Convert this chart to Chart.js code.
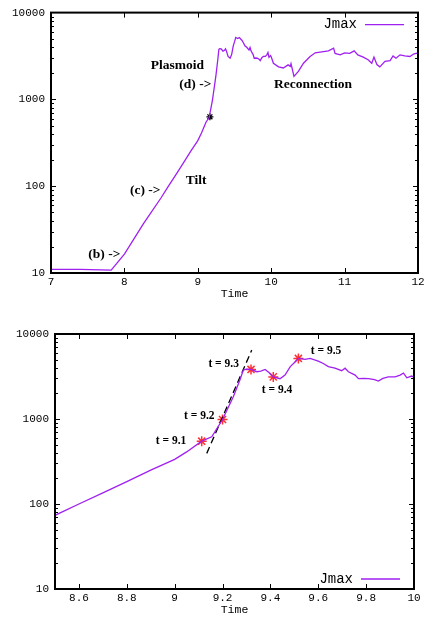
<!DOCTYPE html>
<html>
<head>
<meta charset="utf-8">
<script src="https://cdn.jsdelivr.net/npm/chart.js@4.4.1/dist/chart.umd.min.js"></script>
<style>
    body { margin: 0; background: #fff; }
    .box { position: absolute; left: 0; width: 427px; }
</style>
</head>
<body>
<div class="box" style="top:0;height:305px"><canvas id="chartTop"></canvas></div>
<div class="box" style="top:305px;height:313px"><canvas id="chartBottom"></canvas></div>
<script>
// Jmax against time
const timeValues = [
    7.0, 7.4, 7.82, 8.0, 8.26, 8.5, 8.6, 8.7, 8.8, 8.9, 9.0, 9.05, 9.113, 9.155,
    9.2, 9.245, 9.273, 9.287, 9.3, 9.319, 9.343, 9.36, 9.378, 9.395, 9.412, 9.44,
    9.461, 9.483, 9.503, 9.517, 9.545, 9.566, 9.6, 9.621, 9.642, 9.67, 9.698, 9.712,
    9.726, 9.754, 9.768, 9.79, 9.81, 9.835, 9.851, 9.87, 9.893, 9.921, 9.942, 9.956,
    9.97, 9.99, 10.0, 10.03, 10.1, 10.165, 10.23, 10.26, 10.27, 10.31, 10.37, 10.44,
    10.53, 10.6, 10.69, 10.78, 10.85, 10.87, 10.94, 11.0, 11.07, 11.13, 11.18, 11.255,
    11.32, 11.37, 11.4, 11.44, 11.48, 11.55, 11.62, 11.66, 11.7, 11.755, 11.82, 11.89,
    11.94, 11.97, 12.0
];
const jmaxValues = [
    11.0, 11.0, 10.8, 16.5, 37, 73.6, 100, 135, 183, 250, 335, 410, 549, 618,
    985, 1826, 2900, 3770, 3850, 3830, 3600, 3650, 3830, 3500, 3130, 2980,
    3280, 4140, 4690, 5160, 5020, 5160, 4800, 4500, 4140, 3960, 3700, 3960,
    3600, 3280, 2980, 3000, 2980, 2900, 2800, 3000, 3130, 3130, 3280, 3470,
    3050, 3200, 3100, 2610, 2370, 2300, 2500, 2400, 2580, 1840, 2100, 2610,
    3120, 3440, 3530, 3620, 3890, 3390, 3260, 3440, 3390, 3620, 3260, 3070,
    2860, 2610, 3070, 2520, 2370, 2750, 2800, 3170, 2980, 3260, 3170, 3120,
    3330, 3390, 3400
];

// red stars (bottom) and the black star (top)
const markerTimes = [9.113, 9.2, 9.319, 9.412, 9.517];
const markerValues = [549, 985, 3830, 3130, 5160];
const starTimes = [9.165];
const starValues = [630];

// dashed fit line (bottom)
const fitTimes = [9.134, 9.322];
const fitValues = [394, 6460];

const topXTicks = [7, 8, 9, 10, 11, 12];
const bottomXTicks = [8.6, 8.8, 9, 9.2, 9.4, 9.6, 9.8, 10];
const yTicks = [10, 100, 1000, 10000];

const topNotes = [
    ['Plasmoid', 8.358, 2460],
    ['(d) ->', 8.748, 1479],
    ['Reconnection', 10.038, 1503],
    ['Tilt', 8.835, 116],
    ['(c) ->', 8.076, 89],
    ['(b) ->', 7.508, 16.5]
];
const bottomNotes = [
    ['t = 9.1', 8.921, 553],
    ['t = 9.2', 9.039, 1081],
    ['t = 9.3', 9.141, 4440],
    ['t = 9.4', 9.364, 2190],
    ['t = 9.5', 9.569, 6350]
];

const lineColor = '#a020f0';
const monoFont = '"Liberation Mono", "DejaVu Sans Mono", monospace';

function toPoints(xs, ys) {
    return xs.map((x, i) => ({ x: x, y: ys[i] }));
}

// gnuplot style border, inward ticks, key and labels
function framePlugin(notes, noteSize, keyFromBottom) {
    return {
        id: 'frame',
        afterDraw(chart) {
            const { ctx, chartArea: a, scales: { x, y } } = chart;
            ctx.save();
            ctx.strokeStyle = '#000';
            ctx.lineWidth = 1;
            ctx.beginPath();
            x.ticks.forEach(t => {
                const px = Math.round(x.getPixelForValue(t.value)) + 0.5;
                ctx.moveTo(px, a.bottom); ctx.lineTo(px, a.bottom - 5);
                ctx.moveTo(px, a.top); ctx.lineTo(px, a.top + 5);
            });
            for (let d = 10; d < 10000; d *= 10) {
                for (let k = 1; k < 10; k++) {
                    const py = Math.round(y.getPixelForValue(d * k)) + 0.5;
                    const len = k === 1 ? 5 : 3;
                    ctx.moveTo(a.left, py); ctx.lineTo(a.left + len, py);
                    ctx.moveTo(a.right, py); ctx.lineTo(a.right - len, py);
                }
            }
            ctx.stroke();

            ctx.lineWidth = 2;
            ctx.strokeRect(a.left, a.top, a.right - a.left, a.bottom - a.top);

            // key
            const ky = keyFromBottom ? a.bottom - 10 : a.top + 12;
            ctx.fillStyle = '#000';
            ctx.font = '14px ' + monoFont;
            ctx.textAlign = 'right';
            ctx.textBaseline = 'middle';
            ctx.fillText('Jmax', a.right - 61, ky);
            ctx.strokeStyle = lineColor;
            ctx.lineWidth = 1.3;
            ctx.beginPath();
            ctx.moveTo(a.right - 53, ky);
            ctx.lineTo(a.right - 14, ky);
            ctx.stroke();

            // labels
            ctx.font = 'bold ' + noteSize + 'px "Liberation Serif", serif';
            ctx.textAlign = 'left';
            notes.forEach(([text, t, v]) => {
                ctx.fillText(text, x.getPixelForValue(t), y.getPixelForValue(v));
            });
            ctx.restore();
        }
    };
}

function makeOptions(xMin, xMax, xTicks, pad, yWidth, xHeight, titlePad) {
    return {
        responsive: true,
        maintainAspectRatio: false,
        animation: false,
        layout: { padding: pad },
        plugins: { legend: { display: false }, tooltip: { enabled: false } },
        scales: {
            x: {
                type: 'linear',
                min: xMin,
                max: xMax,
                afterBuildTicks: scale => { scale.ticks = xTicks.map(v => ({ value: v })); },
                afterFit: scale => { scale.height = xHeight; },
                grid: { display: false, drawTicks: false },
                border: { display: false },
                ticks: {
                    color: '#000',
                    font: { family: monoFont, size: 11 },
                    padding: 2,
                    maxRotation: 0,
                    autoSkip: false,
                    callback: v => String(v)
                },
                title: {
                    display: true,
                    text: 'Time',
                    color: '#000',
                    font: { family: monoFont, size: 11.5 },
                    padding: { top: 0, bottom: titlePad }
                }
            },
            y: {
                type: 'logarithmic',
                min: 10,
                max: 10000,
                afterBuildTicks: scale => { scale.ticks = yTicks.map(v => ({ value: v })); },
                afterFit: scale => { scale.width = yWidth; },
                grid: { display: false, drawTicks: false },
                border: { display: false },
                ticks: {
                    color: '#000',
                    font: { family: monoFont, size: 11 },
                    padding: 6,
                    autoSkip: false,
                    callback: v => String(v)
                }
            }
        }
    };
}

const jmaxDataset = {
    data: toPoints(timeValues, jmaxValues),
    borderColor: lineColor,
    borderWidth: 1.3,
    pointRadius: 0,
    tension: 0
};

new Chart(document.getElementById('chartTop'), {
    type: 'line',
    data: {
        datasets: [
            jmaxDataset,
            {
                data: toPoints(starTimes, starValues),
                showLine: false,
                pointStyle: 'star',
                pointRadius: 3.5,
                borderColor: '#000',
                borderWidth: 1.3
            }
        ]
    },
    options: makeOptions(7, 12, topXTicks, { top: 11, right: 9, left: 0, bottom: 0 }, 51, 32, 4.4),
    plugins: [framePlugin(topNotes, 13.5, false)]
});

new Chart(document.getElementById('chartBottom'), {
    type: 'line',
    data: {
        datasets: [
            Object.assign({}, jmaxDataset, { data: toPoints(timeValues, jmaxValues) }),
            {
                data: toPoints(fitTimes, fitValues),
                borderColor: '#000',
                borderWidth: 1.3,
                borderDash: [7, 4],
                pointRadius: 0
            },
            {
                data: toPoints(markerTimes, markerValues),
                showLine: false,
                pointStyle: 'star',
                pointRadius: 5,
                borderColor: '#ff3030',
                borderWidth: 1.5
            }
        ]
    },
    options: makeOptions(8.5, 10, bottomXTicks, { top: 29, right: 13, left: 0, bottom: 0 }, 55, 29, 1.4),
    plugins: [framePlugin(bottomNotes, 11.5, true)]
});
</script>
</body>
</html>
